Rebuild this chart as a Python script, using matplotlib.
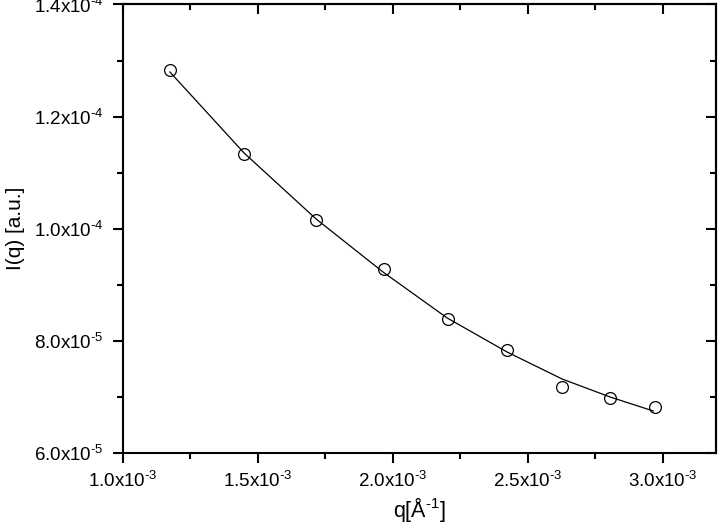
import matplotlib
matplotlib.use("Agg")
import matplotlib.pyplot as plt
from matplotlib.ticker import MultipleLocator, FuncFormatter

plt.rcParams['font.family'] = ['Liberation Sans', 'DejaVu Sans']
plt.rcParams['mathtext.fontset'] = 'custom'
plt.rcParams['mathtext.rm'] = 'Liberation Sans'
plt.rcParams['mathtext.default'] = 'regular'

# measured points
q = [1.174e-3, 1.449e-3, 1.714e-3, 1.966e-3, 2.204e-3,
     2.425e-3, 2.628e-3, 2.806e-3, 2.971e-3]
I = [1.2831e-4, 1.1332e-4, 1.0162e-4, 9.273e-5, 8.395e-5,
     7.842e-5, 7.178e-5, 6.976e-5, 6.820e-5]

# fitted curve
q_fit = [1.174e-3, 1.449e-3, 1.716e-3, 1.964e-3, 2.202e-3,
         2.424e-3, 2.628e-3, 2.806e-3, 2.966e-3]
I_fit = [1.2795e-4, 1.1349e-4, 1.0171e-4, 9.225e-5, 8.404e-5,
         7.797e-5, 7.315e-5, 6.994e-5, 6.744e-5]

HY = '\u2010'  # short hyphen for the exponents, like the original


def sci(v, pos):
    if v == 0:
        return '0'
    exp = int(f'{v:e}'.split('e')[1])
    man = v / 10 ** exp
    return f'{man:.1f}x10$^{{{HY}{abs(exp)}}}$'


fig = plt.figure(figsize=(7.2, 5.28), dpi=100)
ax = fig.add_axes([0.1708, 0.1426, 0.8243, 0.8489])

ax.plot(q_fit, I_fit, color='black', lw=0.9)
ax.plot(q, I, 'o', mfc='none', mec='black', ms=8.5, mew=0.9)

ax.set_xlim(1.0e-3, 3.2e-3)
ax.set_ylim(6.0e-5, 1.4e-4)

ax.xaxis.set_major_locator(MultipleLocator(0.5e-3))
ax.xaxis.set_minor_locator(MultipleLocator(0.25e-3))
ax.yaxis.set_major_locator(MultipleLocator(2e-5))
ax.yaxis.set_minor_locator(MultipleLocator(1e-5))
ax.xaxis.set_major_formatter(FuncFormatter(sci))
ax.yaxis.set_major_formatter(FuncFormatter(sci))

for s in ax.spines.values():
    s.set_linewidth(1.5)
ax.tick_params(which='major', direction='out', length=7, width=1.5,
               labelsize=13.5)
ax.tick_params(axis='x', which='major', pad=6)
ax.tick_params(axis='y', which='major', pad=7)
ax.tick_params(which='minor', direction='out', length=4, width=1.5)

# top and right: inward ticks, no labels
top = ax.secondary_xaxis('top')
top.xaxis.set_major_locator(MultipleLocator(0.5e-3))
top.xaxis.set_minor_locator(MultipleLocator(0.25e-3))
top.tick_params(which='major', direction='in', length=7, width=1.5, labeltop=False)
top.tick_params(which='minor', direction='in', length=4, width=1.5)
right = ax.secondary_yaxis('right')
right.yaxis.set_major_locator(MultipleLocator(2e-5))
right.yaxis.set_minor_locator(MultipleLocator(1e-5))
right.tick_params(which='major', direction='in', length=7, width=1.5, labelright=False)
right.tick_params(which='minor', direction='in', length=4, width=1.5)
for sec in (top, right):
    for s in sec.spines.values():
        s.set_linewidth(1.5)

ax.set_xlabel('q[Å$^{' + HY + '1}$]', fontsize=15.5, labelpad=3)
ax.set_ylabel('I(q) [a.u.]', fontsize=15, labelpad=6)

fig.savefig('out.png', dpi=100)
